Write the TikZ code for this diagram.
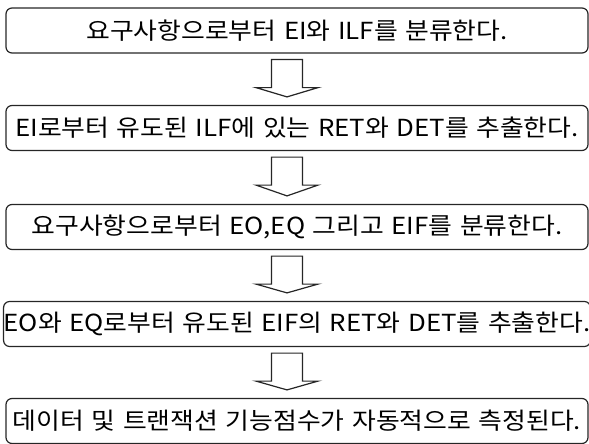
\documentclass[tikz,border=0pt]{standalone}
\usepackage{fontspec}
\setmainfont{Noto Sans CJK KR}[FakeStretch=1.1, WordSpace=1.3]
\usetikzlibrary{calc}
\begin{document}
\begin{tikzpicture}[x=1pt,y=-1pt,
  box/.style={draw=black!85, line width=1.2pt, rounded corners=6pt,
    minimum width=582pt, minimum height=45pt, inner sep=0pt,
    font=\fontsize{23.5}{24}\selectfont},
  blockarrow/.style={draw=black!85, line width=1.2pt, fill=white, line join=miter}]
\useasboundingbox (0,0) rectangle (589,444);
\node[box] (b1) at (297,30.5) {요구사항으로부터 EI와 ILF를 분류한다.};
\node[box] (b2) at (297,128) {EI로부터 유도된 ILF에 있는 RET와 DET를 추출한다.};
\node[box] (b3) at (297,227) {요구사항으로부터 EO,EQ 그리고 EIF를 분류한다.};
\node[box] (b4) at (297,324) {EO와 EQ로부터 유도된 EIF의 RET와 DET를 추출한다.};
\node[box] (b5) at (297,421) {데이터 및 트랜잭션 기능점수가 자동적으로 측정된다.};
\foreach \a/\b in {b1/b2,b2/b3,b3/b4,b4/b5}{
  \draw[blockarrow] ($(\a.south)+(-25.5,6)$) -- ($(\a.south)+(-25.5,34)$)
    -- ($(\a.south)+(-41,34)$) -- ($(\b.north)+(-10,-8)$)
    -- ($(\a.south)+(21,34)$) -- ($(\a.south)+(5.5,34)$)
    -- ($(\a.south)+(5.5,6)$) -- cycle;
}
\end{tikzpicture}
\end{document}
